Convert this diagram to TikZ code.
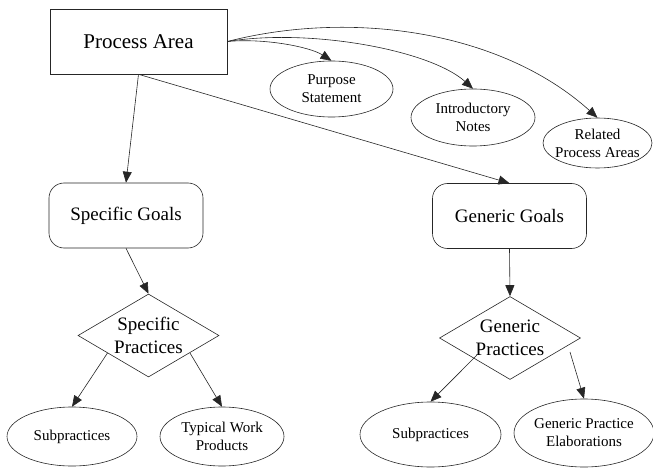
\documentclass[tikz,border=0pt]{standalone}
\usepackage{fontspec}
\setmainfont{Liberation Serif}
\usetikzlibrary{shapes.geometric,arrows.meta}
\begin{document}
\begin{tikzpicture}[x=1pt,y=-1pt,
  line/.style={draw=black!85,line width=0.6pt},
  arr/.style={line,-{Triangle[length=11pt,width=9pt]}},
  areabox/.style={line,rectangle,minimum width=177pt,minimum height=65pt,
    font=\fontsize{21}{25}\selectfont},
  goalbox/.style={line,rectangle,rounded corners=15pt,minimum width=154pt,
    minimum height=65pt,font=\fontsize{19}{23}\selectfont},
  practice/.style={line,diamond,shape aspect=1.7,inner sep=0pt,
    minimum width=141pt,minimum height=83pt,align=center,
    font=\fontsize{19}{23}\selectfont},
  info/.style={line,ellipse,inner sep=-6pt,align=center,
    font=\fontsize{15}{18}\selectfont}
]
\useasboundingbox (0,0) rectangle (653,468);

% top level
\node[areabox] (pa) at (138.5,41.5) {Process Area};
\node[info,minimum width=123pt,minimum height=56pt] (ps) at (331.5,89) {Purpose\\Statement};
\node[info,minimum width=124pt,minimum height=57pt] (in) at (473,117.5) {Introductory\\Notes};
\node[info,minimum width=109pt,minimum height=50pt] (rp) at (597.5,143) {Related\\Process Areas};

% goals
\node[goalbox] (sg) at (126,215.5) {Specific Goals};
\node[goalbox] (gg) at (509.5,216) {Generic Goals};

% practices
\node[practice] (sp) at (148.5,335.5) {Specific\\Practices};
\node[practice] (gp) at (510,338) {Generic\\Practices};

% leaves
\node[info,minimum width=130pt,minimum height=59pt] (sub1) at (72,436.5) {Subpractices};
\node[info,minimum width=124pt,minimum height=59pt] (twp) at (222,436.5) {Typical Work\\Products};
\node[info,minimum width=141pt,minimum height=65pt] (sub2) at (430.5,434.5) {Subpractices};
\node[info,minimum width=140pt,minimum height=68pt] (gpe) at (584,433) {Generic Practice\\Elaborations};

% connectors
\draw[arr] (pa.south) -- (sg.north);
\draw[arr] (pa.south) -- (gg.north);
\draw[arr] (pa.east) .. controls (265,38) and (310,47) .. (ps.north);
\draw[arr] (pa.east) .. controls (310,28) and (430,50) .. (in.north);
\draw[arr] (pa.east) .. controls (350,10) and (500,30) .. (rp.north);

\draw[arr] (sg.south) -- (sp.north);
\draw[arr] (gg.south) -- (gp.north);

\coordinate (spL) at (107.5,353);
\coordinate (spR) at (190,353);
\coordinate (gpL) at (477,355);
\coordinate (gpR) at (570,352);
\draw[arr] (spL) -- (sub1.north);
\draw[arr] (spR) -- (twp.north);
\draw[arr] (gpL) -- (sub2.north);
\draw[arr] (gpR) -- (gpe.north);
\end{tikzpicture}
\end{document}
